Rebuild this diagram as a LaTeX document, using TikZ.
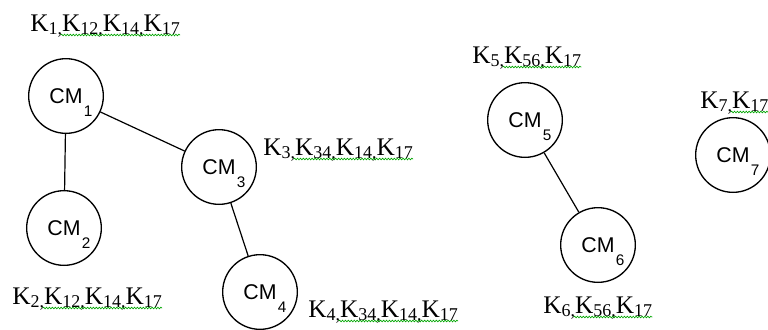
\documentclass[tikz,border=0pt]{standalone}
\usepackage{fontspec}
\setmainfont{Liberation Serif}
\setsansfont{Liberation Sans}
\usetikzlibrary{decorations.pathmorphing}

% key label: K with a lowered index
\newcommand{\kx}[1]{K\raisebox{-2.5pt}{\fontsize{13.5}{13.5}\selectfont #1}}
% cluster member: CM with a big, deep index
\newcommand{\cmx}[1]{CM\smash{\rlap{\hspace{1pt}\raisebox{-10pt}{\fontsize{11.5}{11.5}\selectfont #1}}}}

\begin{document}
\begin{tikzpicture}[x=0.75pt,y=-0.75pt,
  member/.style={circle,draw,line width=1pt,minimum size=56pt,inner sep=0pt,
    font=\sffamily\fontsize{16}{16}\selectfont},
  keys/.style={anchor=base west,inner sep=0pt,font=\fontsize{19}{19}\selectfont},
  link/.style={line width=0.9pt},
  spell/.style={draw=green!65!black,line width=0.5pt,decorate,
    decoration={snake,amplitude=0.6pt,segment length=2.2pt}}]
  \useasboundingbox (0,0) rectangle (768,329);
  \clip (0,0) rectangle (768,329);

  % cluster members
  \node[member] (cm1) at (66,96) {\cmx{1}};
  \node[member] (cm2) at (64,228) {\cmx{2}};
  \node[member] (cm3) at (219,167) {\cmx{3}};
  \node[member] (cm4) at (260,292) {\cmx{4}};
  \node[member] (cm5) at (525,120) {\cmx{5}};
  \node[member] (cm6) at (598,245) {\cmx{6}};
  \node[member] (cm7) at (733,155) {\cmx{7}};

  % links between members
  \draw[link] (cm1) -- (cm2);
  \draw[link] (cm1) -- (cm3);
  \draw[link] (cm3) -- (cm4);
  \draw[link] (cm5) -- (cm6);

  % key sets held by each member
  \node[keys] (k1) at (30,31) {\kx{1,}\kx{12,}\kx{14,}\kx{17}};
  \node[keys] (k2) at (12,304) {\kx{2,}\kx{12,}\kx{14,}\kx{17}};
  \node[keys] (k3) at (263,155) {\kx{3,}\kx{34,}\kx{14,}\kx{17}};
  \node[keys] (k4) at (308,317) {\kx{4,}\kx{34,}\kx{14,}\kx{17}};
  \node[keys] (k5) at (472,63) {\kx{5,}\kx{56,}\kx{17}};
  \node[keys] (k6) at (543,313) {\kx{6,}\kx{56,}\kx{17}};
  \node[keys] (k7) at (700,108) {\kx{7,}\kx{17}};

  % wavy underlines
  \foreach \k in {k1,k2,k3,k4,k5,k6,k7}
    \draw[spell] ([xshift=23pt,yshift=-3pt]\k.base west) -- ([yshift=-3pt]\k.base east);
\end{tikzpicture}
\end{document}
